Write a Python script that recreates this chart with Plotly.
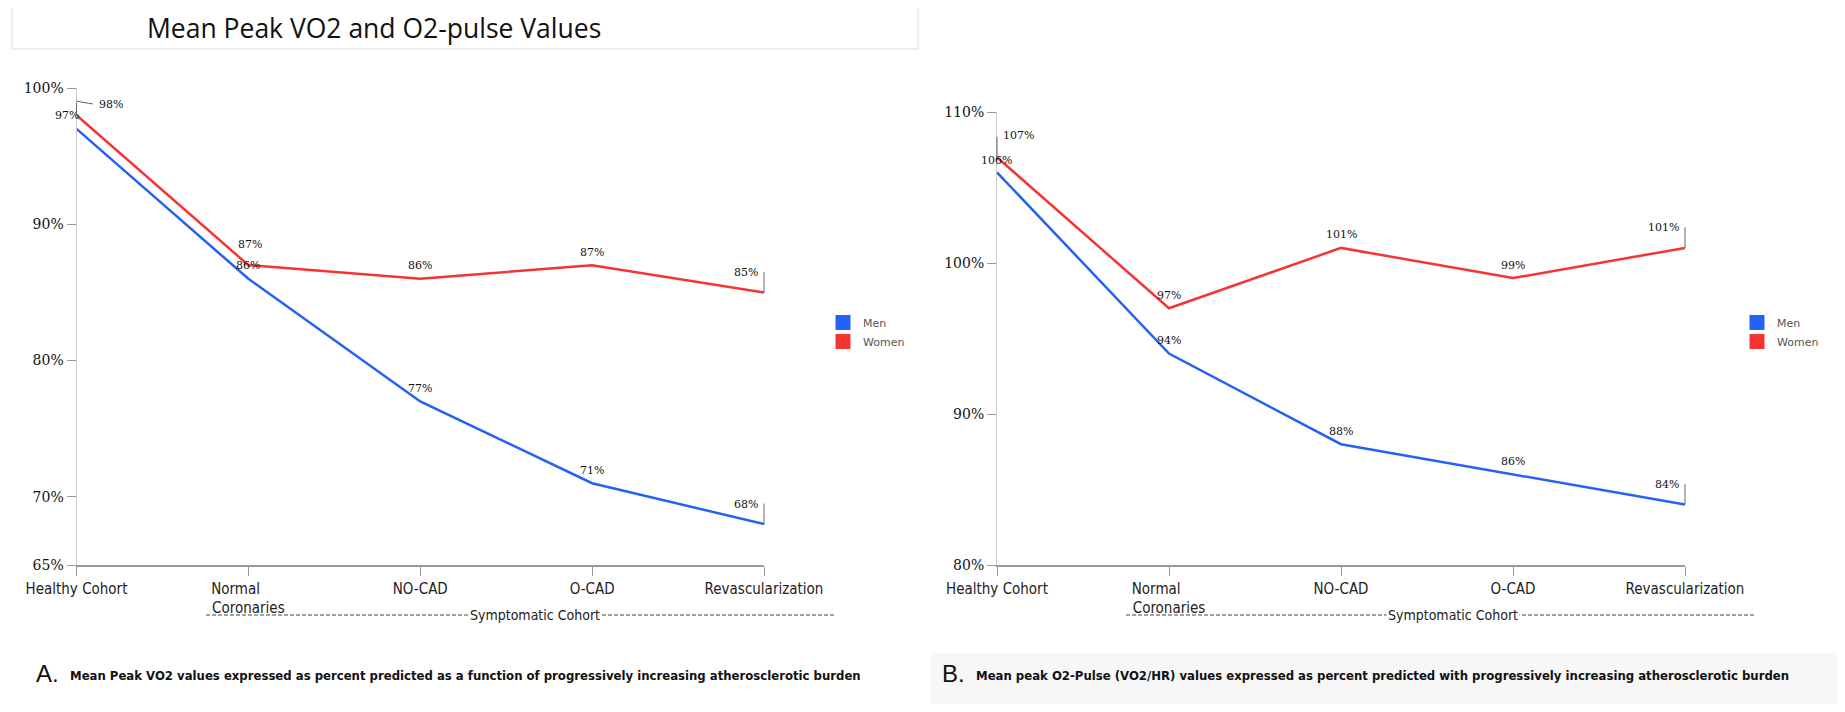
import plotly.graph_objects as go

categories = ["Healthy Cohort", "Normal\u00a0\u00a0\u00a0\u00a0\u00a0\u00a0<br>Coronaries", "NO-CAD", "O-CAD", "Revascularization"]
vo2_men = [97, 86, 77, 71, 68]
vo2_women = [98, 87, 86, 87, 85]
o2p_men = [106, 94, 88, 86, 84]
o2p_women = [107, 97, 101, 99, 101]
vo2_ticks = [65, 70, 80, 90, 100]
o2p_ticks = [80, 90, 100, 110]

BLUE = "#2462f5"
RED = "#f73434"
OFF = 8  # page body margin
W, H = 1845 - 2 * OFF, 712 - 2 * OFF
xs = list(range(len(categories)))


def px(X):
    return (X - OFF) / W


def py(Y):
    return 1 - (Y - OFF) / H


fig = go.Figure()


def add_lines(men, women, xa, ya, legend):
    fig.add_trace(go.Scatter(x=xs, y=men, mode="lines", line=dict(color=BLUE, width=2.5),
                             xaxis=xa, yaxis=ya, showlegend=False, cliponaxis=False))
    fig.add_trace(go.Scatter(x=xs, y=women, mode="lines", line=dict(color=RED, width=2.5),
                             xaxis=xa, yaxis=ya, showlegend=False, cliponaxis=False))
    for name, col in (("Men", BLUE), ("Women", RED)):
        fig.add_trace(go.Scatter(x=[None], y=[None], mode="markers", name=name,
                                 marker=dict(symbol="square", size=15, color=col),
                                 xaxis=xa, yaxis=ya, legend=legend))


add_lines(vo2_men, vo2_women, "x", "y", "legend")
add_lines(o2p_men, o2p_women, "x2", "y2", "legend2")

LBL = dict(family="DejaVu Serif", size=11, color="#111")
annos = []


def label(xref, yref, x, y, text, xs_=0, ys_=13, anchor="center"):
    annos.append(dict(xref=xref, yref=yref, x=x, y=y, text=text, showarrow=False,
                      xshift=xs_, yshift=ys_, xanchor=anchor, font=LBL))


def leader(xref, yref, x, y, ax, ay, ys_=0):
    annos.append(dict(xref=xref, yref=yref, x=x, y=y, text="", showarrow=True,
                      arrowhead=0, arrowwidth=1, arrowcolor="#666", ax=ax, ay=ay,
                      yshift=ys_, standoff=0, startstandoff=0))


def pct(v):
    return f"{v}%"


last = len(categories) - 1

# Chart A labels
for i, v in enumerate(vo2_men):
    if i == 0:
        label("x", "y", i, v, pct(v), xs_=-10, ys_=13)
    elif i == last:
        leader("x", "y", i, v, 0, -22)
        label("x", "y", i, v, pct(v), xs_=-4, ys_=20, anchor="right")
    else:
        label("x", "y", i, v, pct(v))
for i, v in enumerate(vo2_women):
    if i == 0:
        leader("x", "y", i, v, 0, -14)
        leader("x", "y", i, v, 18, 3, ys_=14)
        label("x", "y", i, v, pct(v), xs_=20, ys_=11, anchor="left")
    elif i == last:
        leader("x", "y", i, v, 0, -22)
        label("x", "y", i, v, pct(v), xs_=-4, ys_=20, anchor="right")
    elif i == 1:
        label("x", "y", i, v, pct(v), xs_=2, ys_=21)
    else:
        label("x", "y", i, v, pct(v))

# Chart B labels
for i, v in enumerate(o2p_men):
    if i == 0:
        label("x2", "y2", i, v, pct(v), xs_=0, ys_=12)
    elif i == last:
        leader("x2", "y2", i, v, 0, -22)
        label("x2", "y2", i, v, pct(v), xs_=-4, ys_=20, anchor="right")
    else:
        label("x2", "y2", i, v, pct(v))
for i, v in enumerate(o2p_women):
    if i == 0:
        leader("x2", "y2", i, v, 0, -22)
        label("x2", "y2", i, v, pct(v), xs_=4, ys_=22, anchor="left")
    elif i == last:
        leader("x2", "y2", i, v, 0, -22)
        label("x2", "y2", i, v, pct(v), xs_=-4, ys_=20, anchor="right")
    else:
        label("x2", "y2", i, v, pct(v))

# Title
annos.append(dict(xref="paper", yref="paper", x=px(374), y=py(28), text="Mean Peak VO2 and O2-pulse Values",
                  showarrow=False, xanchor="center", yanchor="middle",
                  font=dict(family="Open Sans", size=26.5, color="#111")))

# Symptomatic cohort labels
for cx in (535, 1453):
    annos.append(dict(xref="paper", yref="paper", x=px(cx), y=py(615), text="Symptomatic Cohort",
                      showarrow=False, xanchor="center", yanchor="middle", bgcolor="white",
                      font=dict(family="DejaVu Sans Condensed", size=14, color="#222")))

# Captions
CAP = dict(family="DejaVu Sans Condensed", size=13, color="#111")
annos.append(dict(xref="paper", yref="paper", x=px(34), y=py(673), text="A.", showarrow=False,
                  xanchor="left", yanchor="middle", font=dict(family="Liberation Sans", size=24, color="#111")))
annos.append(dict(xref="paper", yref="paper", x=px(68), y=py(675),
                  text="<b>Mean Peak VO2 values expressed as percent predicted as a function of progressively increasing atherosclerotic burden</b>",
                  showarrow=False, xanchor="left", yanchor="middle", font=CAP))
annos.append(dict(xref="paper", yref="paper", x=px(940), y=py(673), text="B.", showarrow=False,
                  xanchor="left", yanchor="middle", font=dict(family="Liberation Sans", size=24, color="#111")))
annos.append(dict(xref="paper", yref="paper", x=px(974), y=py(675),
                  text="<b>Mean peak O2-Pulse (VO2/HR) values expressed as percent predicted with progressively increasing atherosclerotic burden</b>",
                  showarrow=False, xanchor="left", yanchor="middle", font=CAP))

shapes = [
    dict(type="rect", xref="paper", yref="paper", x0=px(12), x1=px(918), y0=py(49), y1=py(6),
         line=dict(color="#ece8e8", width=1.5), fillcolor="rgba(0,0,0,0)", layer="below"),
    dict(type="rect", xref="paper", yref="paper", x0=px(930), x1=px(1860), y0=py(720), y1=py(653),
         line=dict(width=0), fillcolor="#f7f7f7", layer="below"),
]
for x0, x1 in ((206, 835), (1126, 1756)):
    shapes.append(dict(type="line", xref="paper", yref="paper", x0=px(x0), x1=px(x1), y0=py(615), y1=py(615),
                       line=dict(color="#444", width=1, dash="4px,2px")))

XT = dict(family="DejaVu Sans Condensed", size=15, color="#222")
YT = dict(family="DejaVu Serif", size=14, color="#111")

common_x = dict(tickvals=xs, ticktext=categories, range=[0, last], showgrid=False, zeroline=False,
                showline=True, linecolor="#999", linewidth=1.5, ticks="outside", ticklen=9,
                tickcolor="#999", tickfont=XT)
common_y = dict(showgrid=False, zeroline=False, showline=True, linecolor="#c8c8c8", linewidth=1,
                ticks="outside", ticklen=9, tickcolor="#999", tickfont=YT)

LEGF = dict(family="DejaVu Sans", size=11, color="#555")
fig.update_layout(
    width=W, height=H, margin=dict(l=0, r=0, t=0, b=0, autoexpand=False),
    paper_bgcolor="white", plot_bgcolor="white",
    xaxis=dict(domain=[px(76.5), px(764)], anchor="y", **common_x),
    yaxis=dict(domain=[py(565), py(88)], anchor="x", range=[65, 100], tickvals=vo2_ticks,
               ticktext=[pct(t) for t in vo2_ticks], **common_y),
    xaxis2=dict(domain=[px(997), px(1685)], anchor="y2", **common_x),
    yaxis2=dict(domain=[py(565), py(112)], anchor="x2", range=[80, 110], tickvals=o2p_ticks,
                ticktext=[pct(t) for t in o2p_ticks], **common_y),
    legend=dict(x=px(823), y=py(308), xanchor="left", yanchor="top", font=LEGF,
                bgcolor="rgba(0,0,0,0)", itemwidth=30),
    legend2=dict(x=px(1737), y=py(308), xanchor="left", yanchor="top", font=LEGF,
                 bgcolor="rgba(0,0,0,0)", itemwidth=30),
    annotations=annos, shapes=shapes,
)

fig.write_html("out.html")
